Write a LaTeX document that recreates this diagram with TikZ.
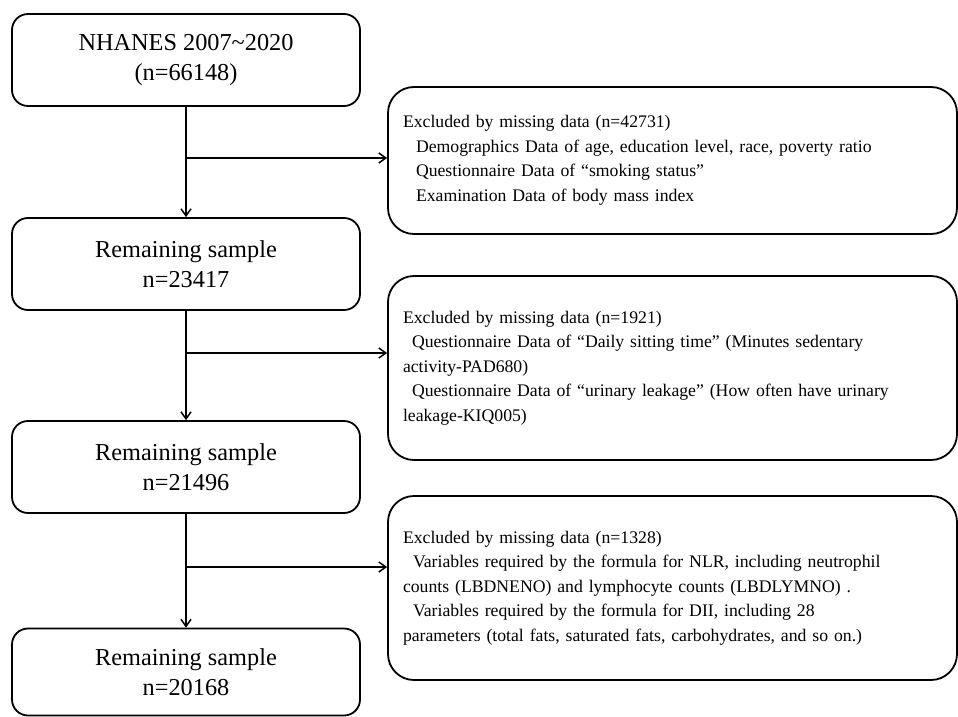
\documentclass[tikz,border=0pt]{standalone}
\usepackage{fontspec}
\setmainfont{Liberation Serif}
\usetikzlibrary{arrows.meta}
\begin{document}
\begin{tikzpicture}[
  x=1pt, y=-1pt,
  every node/.style={draw, line width=1.8pt, inner sep=0pt},
  >={Straight Barb[length=7pt,width=10pt]}
]
\tikzset{
  amostra/.style={rounded corners=16pt, minimum width=348pt, minimum height=92pt,
    align=center, font=\fontsize{24.3}{30}\selectfont},
  excluido/.style={rounded corners=26pt, minimum height=184pt, inner xsep=15pt,
    text width=539pt, align=left, font=\fontsize{17.7}{24.5}\selectfont},
  seta/.style={->, line width=1.5pt}
}
\useasboundingbox (0,0) rectangle (958,717);
% left column
\node[amostra] (n1) at (186,60) {NHANES 2007\textasciitilde 2020\\(n=66148)};
\node[amostra] (n2) at (186,264) {Remaining sample\\n=23417};
\node[amostra] (n3) at (186,467) {Remaining sample\\n=21496};
\node[amostra, minimum height=87pt] (n4) at (186,672) {Remaining sample\\n=20168};
% exclusions
\node[excluido, minimum height=147pt] (e1) at (672.5,160.5) {Excluded by missing data (n=42731)\\
\hspace*{13pt}Demographics Data of age, education level, race, poverty ratio\\
\hspace*{13pt}Questionnaire Data of “smoking status”\\
\hspace*{13pt}Examination Data of body mass index};
\node[excluido] (e2) at (672.5,368) {Excluded by missing data (n=1921)\\
\hspace*{9pt}Questionnaire Data of “Daily sitting time” (Minutes sedentary\\
activity-PAD680)\\
\hspace*{9pt}Questionnaire Data of “urinary leakage” (How often have urinary\\
leakage-KIQ005)};
\node[excluido] (e3) at (672.5,588) {Excluded by missing data (n=1328)\\
\hspace*{10pt}Variables required by the formula for NLR, including neutrophil\\
counts (LBDNENO) and lymphocyte counts (LBDLYMNO) .\\
\hspace*{10pt}Variables required by the formula for DII, including 28\\
parameters (total fats, saturated fats, carbohydrates, and so on.)};
% branch points
\coordinate (b1) at (186,158);
\coordinate (b2) at (186,353);
\coordinate (b3) at (186,567);
% arrows
\draw[seta] (n1.south) -- (n2.north);
\draw[seta] (n2.south) -- (n3.north);
\draw[seta] (n3.south) -- (n4.north);
\draw[seta] (b1) -- (b1 -| e1.west);
\draw[seta] (b2) -- (b2 -| e2.west);
\draw[seta] (b3) -- (b3 -| e3.west);
\end{tikzpicture}
\end{document}
